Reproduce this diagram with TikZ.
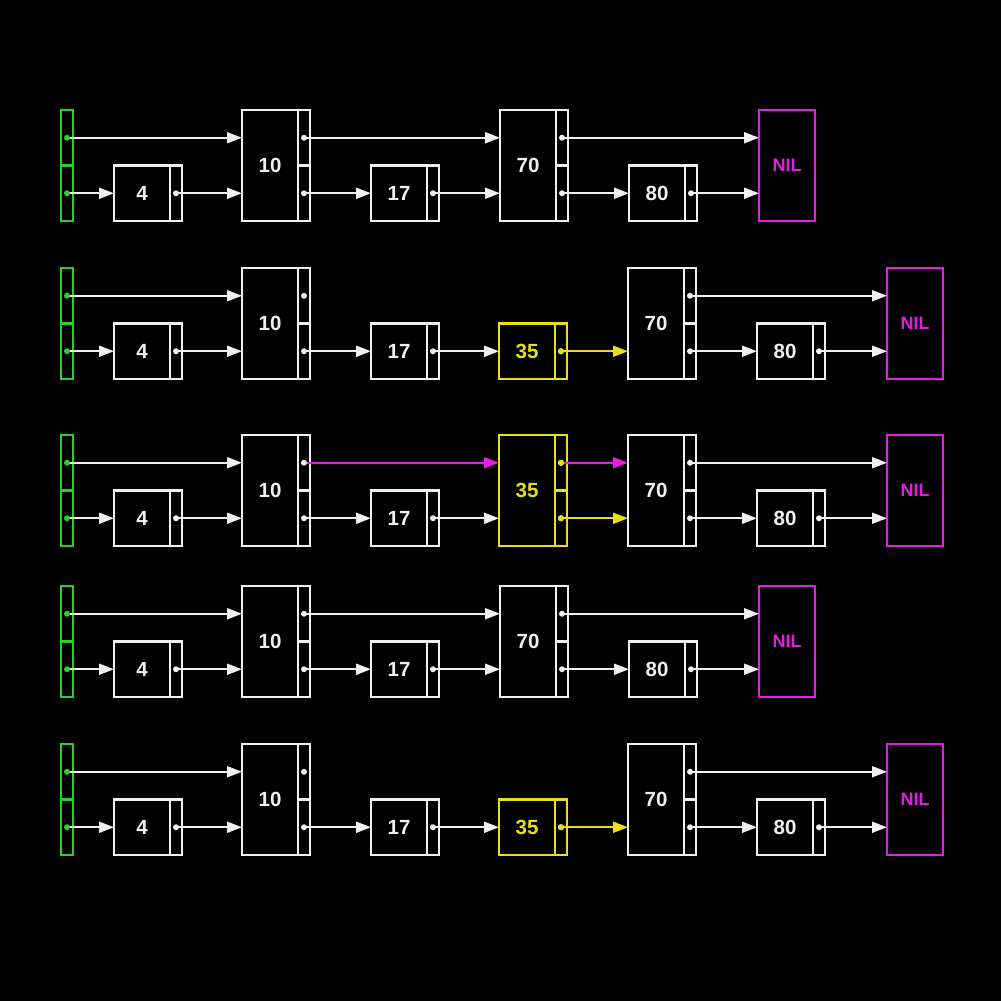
\documentclass[tikz,border=0pt]{standalone}
\usepackage{fontspec}
\setmainfont{Liberation Sans}
\usetikzlibrary{arrows.meta}
\pgfdeclarelayer{front}
\pgfsetlayers{main,front}
\definecolor{wcol}{RGB}{240,240,240}
\definecolor{hgreen}{RGB}{40,210,40}
\definecolor{ycol}{RGB}{232,226,20}
\definecolor{mcol}{RGB}{225,30,225}
\tikzset{
  box/.style={draw=wcol,line width=2.2pt,inner sep=0pt,outer sep=0pt,fill=black},
  datab/.style={box,minimum width=56pt,text=wcol,font=\bfseries\fontsize{20.5}{20.5}\selectfont},
  ptrb/.style={box,minimum width=12pt},
  nilb/.style={box,draw=mcol,text=mcol,minimum width=56pt,minimum height=111pt,font=\bfseries\fontsize{18}{18}\selectfont},
  arr/.style={draw=wcol,line width=2pt,-{Triangle[length=15pt,width=11pt]}},
}
\newcommand\dotat[2]{\begin{pgfonlayer}{front}\fill[#1] (#2) circle (3pt);\end{pgfonlayer}}
\newcommand\headnode[3]{%
  \node[ptrb,draw=hgreen,minimum height=55.5pt,anchor=north west] (#1t) at (#2,#3) {};
  \node[ptrb,draw=hgreen,minimum height=55.5pt,anchor=north west] (#1b) at (#1t.south west) {};
  \dotat{hgreen}{#1t.center}
  \dotat{hgreen}{#1b.center}
}
\newcommand\shortnode[5]{%
  \node[datab,draw=#5,text=#5,minimum height=55.5pt,anchor=north west] (#1) at (#2,#3+55.5) {#4};
  \node[ptrb,draw=#5,minimum height=55.5pt,anchor=north west] (#1p) at (#1.north east) {};
  \dotat{wcol}{#1p.center}
}
\newcommand\tallnode[5]{%
  \node[datab,draw=#5,text=#5,minimum height=111pt,anchor=north west] (#1) at (#2,#3) {#4};
  \node[ptrb,draw=#5,minimum height=55.5pt,anchor=north west] (#1t) at (#1.north east) {};
  \node[ptrb,draw=#5,minimum height=55.5pt,anchor=north west] (#1b) at (#1t.south west) {};
  \dotat{wcol}{#1t.center}
  \dotat{wcol}{#1b.center}
}
\newcommand\nilnode[3]{%
  \node[nilb,anchor=north west] (#1) at (#2,#3) {NIL};
}
% list without 35
\newcommand\rowA[2]{%
  \headnode{#1h}{61}{#2}
  \shortnode{#1n4}{114}{#2}{4}{wcol}
  \tallnode{#1n10}{242}{#2}{10}{wcol}
  \shortnode{#1n17}{371}{#2}{17}{wcol}
  \tallnode{#1n70}{500}{#2}{70}{wcol}
  \shortnode{#1n80}{629}{#2}{80}{wcol}
  \nilnode{#1nil}{759}{#2}
  \draw[arr] (#1ht.center) -- (#1n10.west |- #1ht.center);
  \draw[arr] (#1hb.center) -- (#1n4.west);
  \draw[arr] (#1n4p.center) -- (#1n10.west |- #1n4p.center);
  \draw[arr] (#1n10t.center) -- (#1n70.west |- #1n10t.center);
  \draw[arr] (#1n10b.center) -- (#1n17.west);
  \draw[arr] (#1n17p.center) -- (#1n70.west |- #1n17p.center);
  \draw[arr] (#1n70t.center) -- (#1nil.west |- #1n70t.center);
  \draw[arr] (#1n70b.center) -- (#1n80.west);
  \draw[arr] (#1n80p.center) -- (#1nil.west |- #1n80p.center);
}
% list with short 35
\newcommand\rowB[2]{%
  \headnode{#1h}{61}{#2}
  \shortnode{#1n4}{114}{#2}{4}{wcol}
  \tallnode{#1n10}{242}{#2}{10}{wcol}
  \shortnode{#1n17}{371}{#2}{17}{wcol}
  \shortnode{#1n35}{499}{#2}{35}{ycol}
  \tallnode{#1n70}{628}{#2}{70}{wcol}
  \shortnode{#1n80}{757}{#2}{80}{wcol}
  \nilnode{#1nil}{887}{#2}
  \dotat{ycol}{#1n35p.center}
  \draw[arr] (#1ht.center) -- (#1n10.west |- #1ht.center);
  \draw[arr] (#1hb.center) -- (#1n4.west);
  \draw[arr] (#1n4p.center) -- (#1n10.west |- #1n4p.center);
  \draw[arr] (#1n10b.center) -- (#1n17.west);
  \draw[arr] (#1n17p.center) -- (#1n35.west);
  \draw[arr,draw=ycol] (#1n35p.center) -- (#1n70.west |- #1n35p.center);
  \draw[arr] (#1n70t.center) -- (#1nil.west |- #1n70t.center);
  \draw[arr] (#1n70b.center) -- (#1n80.west);
  \draw[arr] (#1n80p.center) -- (#1nil.west |- #1n80p.center);
}
\begin{document}
\begin{tikzpicture}[x=1pt,y=-1pt]
\fill[black] (0,0) rectangle (1001,1001);
\useasboundingbox (0,0) rectangle (1001,1001);
\rowA{a}{110}
\rowB{b}{268}
% row 3: 35 promoted to level 2
\headnode{ch}{61}{435}
\shortnode{cn4}{114}{435}{4}{wcol}
\tallnode{cn10}{242}{435}{10}{wcol}
\shortnode{cn17}{371}{435}{17}{wcol}
\tallnode{cn35}{499}{435}{35}{ycol}
\tallnode{cn70}{628}{435}{70}{wcol}
\shortnode{cn80}{757}{435}{80}{wcol}
\nilnode{cnil}{887}{435}
\dotat{ycol}{cn35t.center}
\dotat{ycol}{cn35b.center}
\draw[arr] (cht.center) -- (cn10.west |- cht.center);
\draw[arr] (chb.center) -- (cn4.west);
\draw[arr] (cn4p.center) -- (cn10.west |- cn4p.center);
\draw[arr,draw=mcol] (cn10t.center) -- (cn35.west |- cn10t.center);
\draw[arr] (cn10b.center) -- (cn17.west);
\draw[arr] (cn17p.center) -- (cn35.west |- cn17p.center);
\draw[arr,draw=mcol] (cn35t.center) -- (cn70.west |- cn35t.center);
\draw[arr,draw=ycol] (cn35b.center) -- (cn70.west |- cn35b.center);
\draw[arr] (cn70t.center) -- (cnil.west |- cn70t.center);
\draw[arr] (cn70b.center) -- (cn80.west);
\draw[arr] (cn80p.center) -- (cnil.west |- cn80p.center);
\rowA{d}{586}
\rowB{e}{744}
\end{tikzpicture}
\end{document}
